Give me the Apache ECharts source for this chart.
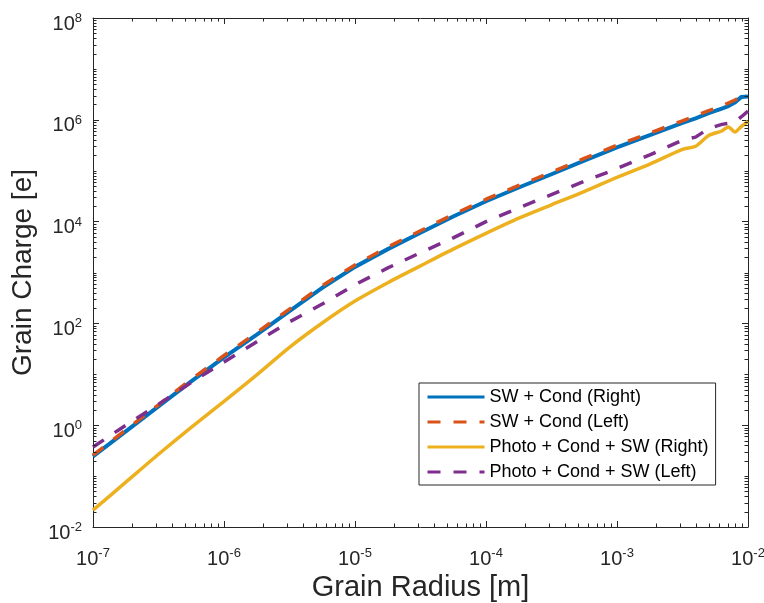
<!DOCTYPE html>
<html><head><meta charset="utf-8">
<script src="https://cdn.jsdelivr.net/npm/echarts@6/dist/echarts.min.js"></script>
<style>html,body{margin:0;padding:0;background:#fff}#c{width:764px;height:603px}</style>
</head><body><div id="c"></div>
<script>
// Grain radius [m]
const radius = [1e-7, 1.78e-7, 3.16e-7, 5.62e-7, 1e-6, 1.78e-6, 3.16e-6, 5.62e-6, 1e-5, 1.78e-5, 3.16e-5, 5.62e-5,
  1e-4, 1.78e-4, 3.16e-4, 5.62e-4, 1e-3, 1.78e-3, 3.16e-3, 3.98e-3, 5.01e-3, 6.31e-3, 7.08e-3, 7.94e-3, 8.91e-3, 1e-2];
// Grain charge [e]
const swCondRight = [0.245, 0.759, 2.34, 7.24, 21.4, 60.3, 174, 501, 1290, 2880, 6030, 12600,
  25100, 46800, 85100, 158000, 288000, 501000, 871000, 1.07e6, 1.35e6, 1.66e6, 1.86e6, 2.19e6, 2.82e6, 2.88e6];
const swCondLeft = [0.257, 0.813, 2.51, 7.94, 23.4, 66.1, 191, 550, 1410, 3160, 6610, 13800,
  27500, 51300, 93300, 174000, 316000, 550000, 955000, 1.20e6, 1.51e6, 1.86e6, 2.14e6, 2.45e6, 2.82e6, 3.09e6];
const photoCondSwRight = [0.0214, 0.0759, 0.269, 0.91, 2.95, 9.77, 33.9, 102, 275, 631, 1350, 2880,
  5890, 11700, 21400, 38900, 74100, 135000, 263000, 302000, 490000, 603000, 724000, 575000, 741000, 933000];
const photoCondSwLeft = [0.372, 1.00, 2.57, 6.92, 17.4, 43.7, 107, 240, 575, 1230, 2450, 4790,
  10000, 18600, 33900, 61700, 110000, 204000, 398000, 457000, 676000, 813000, 851000, 912000, 1.15e6, 1.48e6];
const seriesNames = ['SW + Cond (Right)', 'SW + Cond (Left)', 'Photo + Cond + SW (Right)', 'Photo + Cond + SW (Left)'];
const xRange = [1e-7, 1e-2];
const yRange = [1e-2, 1e8];

const AX = '#262626';
const FONT = 'Liberation Sans';
const pair = (xs, ys) => xs.map((x, i) => [x, ys[i]]);

// minor tick positions (2..9 x 10^n)
const xMinor = [], yMinor = [];
for (let n = -7; n < -2; n++) for (let k = 2; k <= 9; k++) xMinor.push(k * Math.pow(10, n));
for (let n = -2; n < 8; n++) { for (let k = 2; k <= 9; k++) yMinor.push(k * Math.pow(10, n)); if (n % 2 === 0) yMinor.push(Math.pow(10, n + 1)); }

function minorTicks(values, dim) {
  return {
    type: 'custom', silent: true, z: 5, clip: false,
    data: values.map(v => dim === 'x' ? [v, 1] : [1e-5, v]),
    renderItem: (params, api) => {
      const cs = params.coordSys;
      const p = api.coord([api.value(0), api.value(1)]);
      const L = 3.5, st = { stroke: AX, lineWidth: 1 };
      if (dim === 'x') {
        const x = Math.round(p[0]) + 0.5;
        return { type: 'group', children: [
          { type: 'line', shape: { x1: x, y1: cs.y + cs.height, x2: x, y2: cs.y + cs.height - L }, style: st },
          { type: 'line', shape: { x1: x, y1: cs.y, x2: x, y2: cs.y + L }, style: st }
        ] };
      }
      const y = Math.round(p[1]) + 0.5;
      return { type: 'group', children: [
        { type: 'line', shape: { x1: cs.x, y1: y, x2: cs.x + L, y2: y }, style: st },
        { type: 'line', shape: { x1: cs.x + cs.width, y1: y, x2: cs.x + cs.width - L, y2: y }, style: st }
      ] };
    }
  };
}

const expLabel = v => '{b|10}{s|' + Math.round(Math.log10(v)) + '}';
const rich = {
  b: { fontSize: 20, fontFamily: FONT, color: AX, lineHeight: 22, verticalAlign: 'bottom' },
  s: { fontSize: 13, fontFamily: FONT, color: AX, lineHeight: 13, verticalAlign: 'top' }
};
const axisCommon = {
  type: 'log', logBase: 10,
  axisLine: { show: true, lineStyle: { color: AX, width: 1 } },
  axisTick: { show: true, inside: true, length: 6, lineStyle: { color: AX, width: 1 } },
  splitLine: { show: false }, minorTick: { show: false }
};

const chart = echarts.init(document.getElementById('c'), null, { renderer: 'canvas' });
const lw = 3.5;
const dash = [13, 13];
chart.setOption({
  backgroundColor: '#fff',
  animation: false,
  grid: { left: 93, right: 16, top: 18, bottom: 76, containLabel: false, outerBoundsMode: 'none' },
  legend: {
    data: seriesNames, orient: 'vertical', left: 419, top: 383,
    itemWidth: 57, itemHeight: 18, itemGap: 7,
    padding: [5, 7, 4, 7],
    backgroundColor: '#fff', borderColor: AX, borderWidth: 1,
    itemStyle: { color: 'rgba(0,0,0,0)', borderColor: 'rgba(0,0,0,0)', borderWidth: 0 },
    lineStyle: { width: 3 },
    textStyle: { fontSize: 18, fontFamily: FONT, color: '#000' }
  },
  xAxis: [
    Object.assign({}, axisCommon, { min: xRange[0], max: xRange[1], interval: 1, position: 'bottom',
      name: 'Grain Radius [m]', nameLocation: 'middle', nameGap: 42,
      nameTextStyle: { fontSize: 29, fontFamily: FONT, color: AX },
      axisLabel: { formatter: expLabel, rich: rich, margin: 20 } }),
    Object.assign({}, axisCommon, { min: xRange[0], max: xRange[1], interval: 1, position: 'top', axisLabel: { show: false } })
  ],
  yAxis: [
    Object.assign({}, axisCommon, { min: yRange[0], max: yRange[1], interval: 2, position: 'left',
      name: 'Grain Charge [e]', nameLocation: 'middle', nameGap: 48,
      nameTextStyle: { fontSize: 28, fontFamily: FONT, color: AX },
      axisLabel: { formatter: expLabel, rich: rich, margin: 11, padding: [10, 0, 0, 0] } }),
    Object.assign({}, axisCommon, { min: yRange[0], max: yRange[1], interval: 2, position: 'right', axisLabel: { show: false } })
  ],
  series: [
    { name: seriesNames[0], type: 'line', data: pair(radius, swCondRight), symbol: 'none', z: 2,
      lineStyle: { color: '#0072BD', width: lw + 0.5 }, itemStyle: { color: '#0072BD' } },
    { name: seriesNames[1], type: 'line', data: pair(radius, swCondLeft), symbol: 'none', z: 3,
      lineStyle: { color: '#D95319', width: lw, type: dash, cap: 'butt' }, itemStyle: { color: '#D95319' } },
    { name: seriesNames[2], type: 'line', data: pair(radius, photoCondSwRight), symbol: 'none', z: 3,
      smooth: 0.25,
      lineStyle: { color: '#EDB120', width: lw }, itemStyle: { color: '#EDB120' } },
    { name: seriesNames[3], type: 'line', data: pair(radius, photoCondSwLeft), symbol: 'none', z: 4,
      lineStyle: { color: '#7E2F8E', width: lw, type: dash, cap: 'butt' }, itemStyle: { color: '#7E2F8E' } },
    minorTicks(xMinor, 'x'),
    minorTicks(yMinor, 'y')
  ]
});
</script>
</body></html>
